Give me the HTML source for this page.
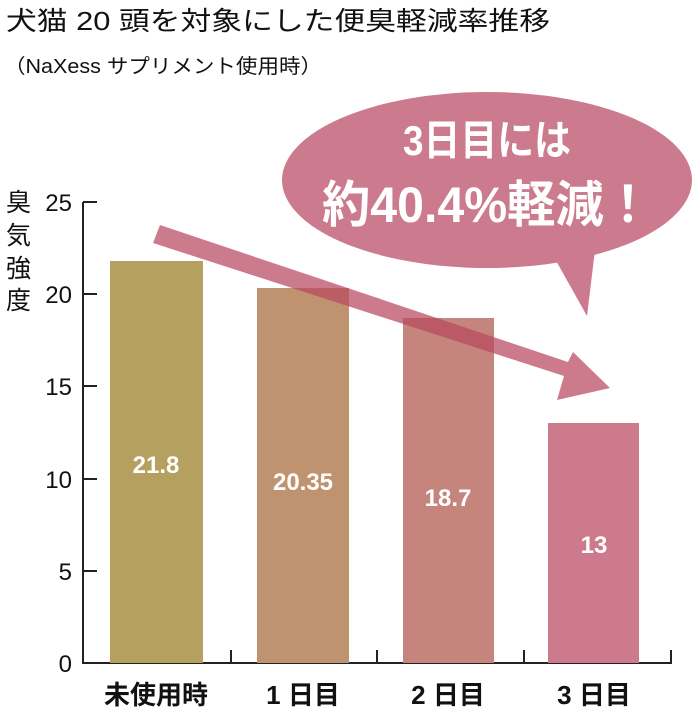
<!DOCTYPE html>
<html><head><meta charset="utf-8"><style>
html,body{margin:0;padding:0;background:#fff;}
svg{display:block;}
text{font-family:"Liberation Sans","Noto Sans CJK JP",sans-serif;}
</style></head><body>
<svg width="692" height="713" viewBox="0 0 692 713" xmlns="http://www.w3.org/2000/svg">
<text x="6" y="30" font-size="26" fill="#111" textLength="544" lengthAdjust="spacingAndGlyphs">犬猫 20 頭を対象にした便臭軽減率推移</text>
<text x="4" y="73" font-size="20" fill="#111" textLength="318" lengthAdjust="spacingAndGlyphs">（NaXess サプリメント使用時）</text>
<!-- bubble -->
<ellipse cx="487" cy="180" rx="205" ry="88" fill="#cc7a8d"/>
<polygon points="550,250 595,250 587,316" fill="#cc7a8d"/>
<text x="487" y="155" font-size="42" font-weight="bold" fill="#fff" text-anchor="middle" textLength="168" lengthAdjust="spacingAndGlyphs">3日目には</text>
<text x="487" y="222" font-size="50" font-weight="bold" fill="#fff" text-anchor="middle" textLength="330" lengthAdjust="spacingAndGlyphs">約40.4%軽減！</text>
<!-- y axis label -->
<text font-size="25" fill="#111"><tspan x="6" y="211">臭</tspan><tspan x="6" y="244">気</tspan><tspan x="6" y="277">強</tspan><tspan x="6" y="309">度</tspan></text>
<!-- axes -->
<g stroke="#222" stroke-width="2" fill="none">
<line x1="83" y1="202" x2="83" y2="664"/>
<line x1="82" y1="663" x2="672" y2="663"/>
<line x1="83" y1="202" x2="97" y2="202"/>
<line x1="83" y1="294" x2="97" y2="294"/>
<line x1="83" y1="386" x2="97" y2="386"/>
<line x1="83" y1="479" x2="97" y2="479"/>
<line x1="83" y1="571" x2="97" y2="571"/>
<line x1="231" y1="663" x2="231" y2="650"/>
<line x1="377" y1="663" x2="377" y2="650"/>
<line x1="524" y1="663" x2="524" y2="650"/>
<line x1="671" y1="663" x2="671" y2="650"/>
</g>
<g font-size="24" fill="#111" text-anchor="end">
<text x="72" y="211">25</text><text x="72" y="303">20</text><text x="72" y="395">15</text><text x="72" y="488">10</text><text x="72" y="580">5</text><text x="72" y="672">0</text>
</g>
<!-- bars -->
<rect x="110" y="261" width="93" height="402" fill="#b5a060"/>
<rect x="257" y="288" width="92" height="375" fill="#c09370"/>
<rect x="403" y="318" width="91" height="345" fill="#c5857c"/>
<rect x="548" y="423" width="91" height="240" fill="#cd7a8c"/>
<g font-size="24" font-weight="bold" fill="#fff" text-anchor="middle">
<text x="156" y="473">21.8</text><text x="303" y="490">20.35</text><text x="448" y="506">18.7</text><text x="594" y="553">13</text>
</g>
<!-- arrow -->
<polygon points="160,225 153,243 564,376 557,400 610,388 573,352 568,362" fill="#b8485f" fill-opacity="0.72"/>
<g font-size="26" font-weight="bold" fill="#111" text-anchor="middle">
<text x="156" y="704">未使用時</text><text x="303" y="704">1 日目</text><text x="448" y="704">2 日目</text><text x="594" y="704">3 日目</text>
</g>
</svg>
</body></html>
